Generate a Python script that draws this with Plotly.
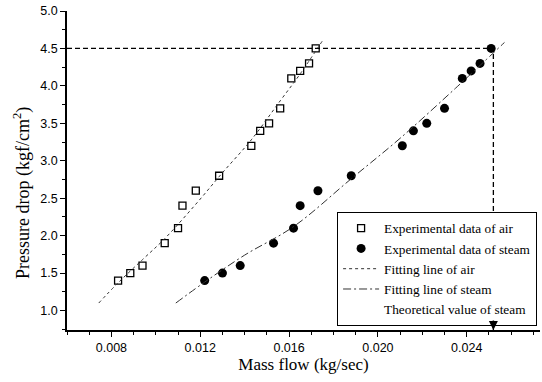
import plotly.graph_objects as go

# Experimental data
air_x = [0.0083, 0.00885, 0.0094, 0.0104, 0.0110, 0.0112, 0.0118, 0.01285,
         0.0143, 0.0147, 0.0151, 0.0156, 0.0161, 0.0165, 0.0169, 0.0172]
air_y = [1.4, 1.5, 1.6, 1.9, 2.1, 2.4, 2.6, 2.8, 3.2, 3.4, 3.5, 3.7, 4.1, 4.2, 4.3, 4.5]

steam_x = [0.0122, 0.0130, 0.0138, 0.0153, 0.0162, 0.0165, 0.0173, 0.0188,
           0.0211, 0.0216, 0.0222, 0.0230, 0.0238, 0.0242, 0.0246, 0.0251]
steam_y = [1.4, 1.5, 1.6, 1.9, 2.1, 2.4, 2.6, 2.8, 3.2, 3.4, 3.5, 3.7, 4.1, 4.2, 4.3, 4.5]

# Fitting lines
air_fit_x = [0.00743, 0.0083, 0.0094, 0.0104, 0.0118, 0.0130, 0.0143, 0.0156, 0.0165, 0.0175]
air_fit_y = [1.10, 1.37, 1.68, 1.96, 2.42, 2.84, 3.28, 3.80, 4.16, 4.60]

steam_fit_x = [0.0109, 0.0122, 0.0140, 0.0162, 0.0188, 0.0210, 0.0235, 0.0257]
steam_fit_y = [1.10, 1.38, 1.74, 2.12, 2.76, 3.30, 3.97, 4.58]

# Theoretical value of steam
theory_x = 0.0252
theory_y = 4.5

x_range = [0.006, 0.0273]
y_range = [0.74, 5.0]

x_ticks = [0.008, 0.012, 0.016, 0.020, 0.024]
x_tick_labels = ["0.008", "0.012", "0.016", "0.020", "0.024"]
y_ticks = [1.0, 1.5, 2.0, 2.5, 3.0, 3.5, 4.0, 4.5, 5.0]
y_tick_labels = ["1.0", "1.5", "2.0", "2.5", "3.0", "3.5", "4.0", "4.5", "5.0"]

serif = "Liberation Serif, Times New Roman, serif"
sans = "Liberation Sans, Arial, sans-serif"

fig = go.Figure()

fig.add_trace(go.Scatter(
    x=air_x, y=air_y, mode="markers", name="Experimental data of air",
    marker=dict(symbol="square-open", size=7, color="black", line=dict(width=1.3, color="black")),
))
fig.add_trace(go.Scatter(
    x=steam_x, y=steam_y, mode="markers", name="Experimental data of steam",
    marker=dict(symbol="circle", size=9, color="black"),
))
fig.add_trace(go.Scatter(
    x=air_fit_x, y=air_fit_y, mode="lines", name="Fitting line of air",
    line=dict(color="#333333", width=1, dash="dot", shape="spline"),
))
fig.add_trace(go.Scatter(
    x=steam_fit_x, y=steam_fit_y, mode="lines", name="Fitting line of steam",
    line=dict(color="#333333", width=1, dash="8px,3px,2px,3px", shape="spline"),
))
# Guide lines to theoretical value
fig.add_trace(go.Scatter(
    x=[x_range[0], theory_x, theory_x], y=[theory_y, theory_y, y_range[0]],
    mode="lines", showlegend=False, hoverinfo="skip",
    line=dict(color="black", width=1.3, dash="5px,3px"),
))
# Legend entry without a symbol
fig.add_trace(go.Scatter(
    x=[None], y=[None], mode="lines", name="Theoretical value of steam",
    line=dict(color="rgba(0,0,0,0)", width=1),
))

fig.add_annotation(
    x=theory_x, y=y_range[0], xref="x", yref="y",
    ax=0, ay=-11, showarrow=True, arrowhead=2, arrowsize=1.2, arrowwidth=1.5,
    arrowcolor="black", text="",
)

fig.add_annotation(
    text="Pressure drop (kgf/cm<sup>2</sup>)", textangle=-90,
    xref="paper", yref="paper", x=-0.095, y=0.43, xanchor="center", yanchor="middle",
    showarrow=False, font=dict(family=serif, size=18, color="black"),
)

fig.update_layout(
    width=542, height=382,
    margin=dict(l=67, r=2, t=11, b=52),
    paper_bgcolor="white", plot_bgcolor="white",
    showlegend=True,
    legend=dict(
        x=0.571, y=0.37, xanchor="left", yanchor="top",
        bgcolor="white", bordercolor="black", borderwidth=1,
        font=dict(family=serif, size=13.3, color="black"),
        itemwidth=36, tracegroupgap=0,
    ),
    xaxis=dict(
        range=x_range, showgrid=False, zeroline=False,
        showline=True, linecolor="black", linewidth=1.5,
        ticks="outside", ticklen=5, tickcolor="black", tickwidth=1,
        tickvals=x_ticks, ticktext=x_tick_labels,
        tickfont=dict(family=sans, size=12.5, color="black"),
        minor=dict(dtick=0.001, tick0=0.008, ticks="outside", ticklen=3, tickcolor="black"),
        title=dict(text="Mass flow (kg/sec)", font=dict(family=serif, size=17, color="black"), standoff=4),
    ),
    yaxis=dict(
        range=y_range, showgrid=False, zeroline=False,
        showline=True, linecolor="black", linewidth=1.5,
        ticks="outside", ticklen=5, tickcolor="black", tickwidth=1,
        tickvals=y_ticks, ticktext=y_tick_labels,
        tickfont=dict(family=sans, size=12.5, color="black"),
        minor=dict(dtick=0.25, tick0=1.0, ticks="outside", ticklen=3, tickcolor="black"),
    ),
)

fig.write_html("out.html", config={"displayModeBar": False},
               post_script="document.body.style.margin='0';")
